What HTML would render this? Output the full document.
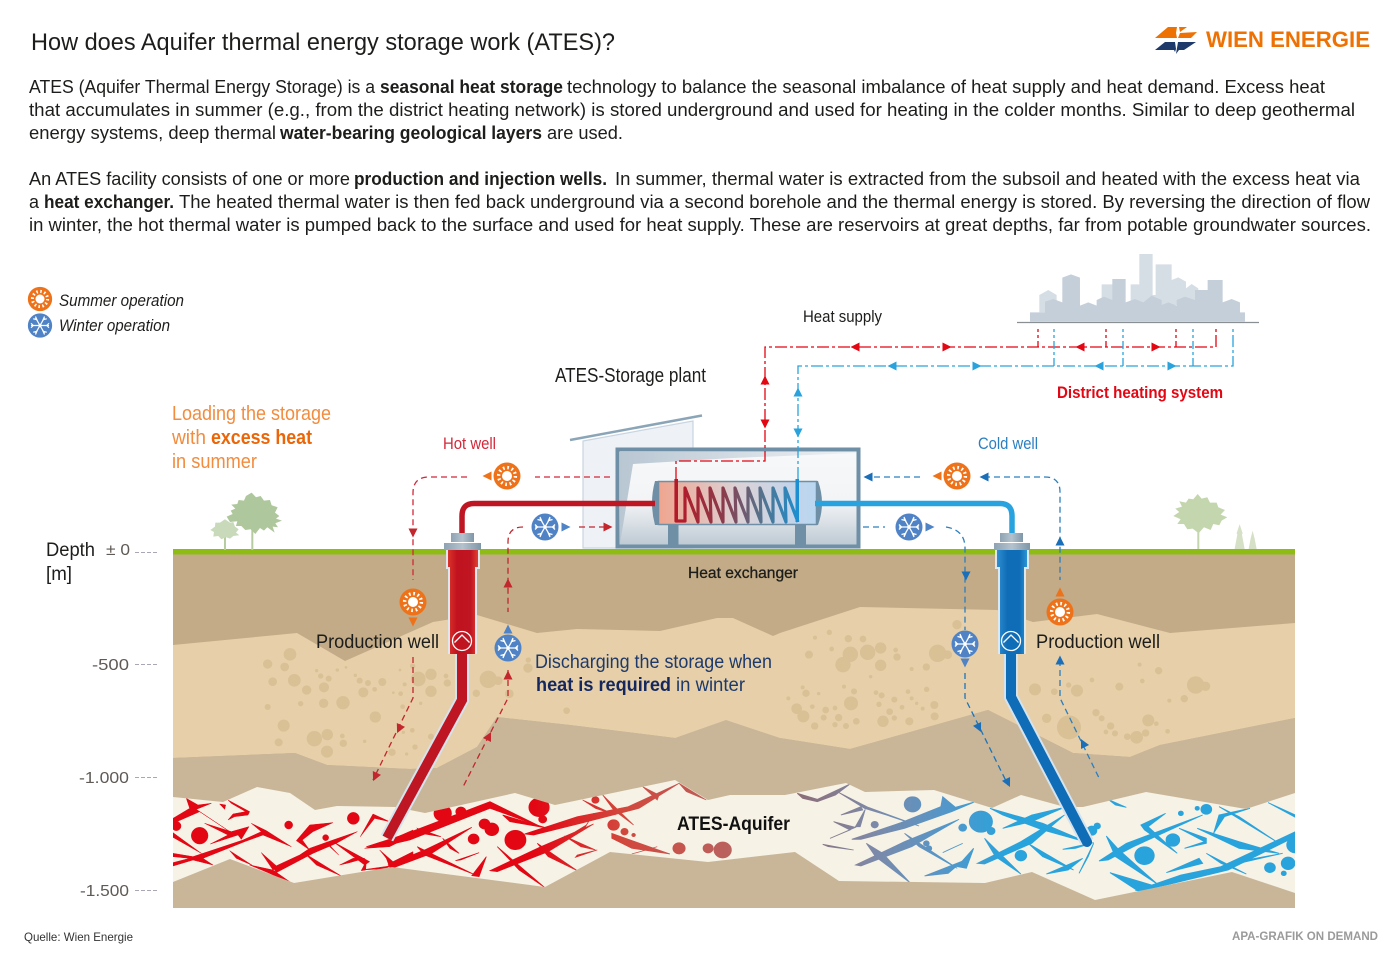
<!DOCTYPE html>
<html><head><meta charset="utf-8"><title>ATES</title>
<style>html,body{margin:0;padding:0;background:#fff}svg{display:block}
text{font-family:"Liberation Sans",sans-serif;fill:#1d1d1b}
.b{font-weight:bold}
</style></head><body>
<svg xmlns="http://www.w3.org/2000/svg" width="1400" height="953" viewBox="0 0 1400 953">
<defs>
<linearGradient id="coil" gradientUnits="userSpaceOnUse" x1="680" y1="0" x2="800" y2="0"><stop offset="0" stop-color="#b31b2a"/><stop offset=".35" stop-color="#8c3a4a"/><stop offset=".65" stop-color="#5b6f86"/><stop offset="1" stop-color="#1b8fcf"/></linearGradient>
<linearGradient id="tank" x1="0" y1="0" x2="1" y2="0"><stop offset="0" stop-color="#efa58f"/><stop offset=".5" stop-color="#dcd2d6"/><stop offset="1" stop-color="#b9d6f2"/></linearGradient>
<linearGradient id="box" x1="0" y1="0" x2="0" y2="1"><stop offset="0" stop-color="#f7f8fa"/><stop offset=".55" stop-color="#f2f4f6"/><stop offset="1" stop-color="#bcc8d2"/></linearGradient>
<linearGradient id="band" x1="0" y1="0" x2="1" y2="0"><stop offset="0" stop-color="#b9c7d3"/><stop offset="1" stop-color="#eef1f4"/></linearGradient>
<linearGradient id="redw" x1="0" y1="0" x2="1" y2="0"><stop offset="0" stop-color="#d9342b"/><stop offset=".3" stop-color="#c1121f"/><stop offset=".75" stop-color="#bf1522"/><stop offset="1" stop-color="#e0402f"/></linearGradient>
<linearGradient id="bluew" x1="0" y1="0" x2="1" y2="0"><stop offset="0" stop-color="#2f8fd0"/><stop offset=".35" stop-color="#0f6cb6"/><stop offset=".75" stop-color="#0f6cb6"/><stop offset="1" stop-color="#2c93d6"/></linearGradient>
<linearGradient id="cap" x1="0" y1="0" x2="1" y2="0"><stop offset="0" stop-color="#8ea3b3"/><stop offset=".5" stop-color="#b4c2cd"/><stop offset="1" stop-color="#7f96a8"/></linearGradient>
<linearGradient id="cr" gradientUnits="userSpaceOnUse" x1="1000" y1="0" x2="1540" y2="0"><stop offset="0" stop-color="#e30613"/><stop offset=".45" stop-color="#d2473c"/><stop offset="1" stop-color="#b9625e"/></linearGradient>
<linearGradient id="cb" gradientUnits="userSpaceOnUse" x1="180" y1="0" x2="760" y2="0"><stop offset="0" stop-color="#8c6c74"/><stop offset=".35" stop-color="#7f88a6"/><stop offset=".7" stop-color="#5596c8"/><stop offset="1" stop-color="#29a3dc"/></linearGradient>
<clipPath id="aq"><path d="M173 797 223 802 257 787 290 793 315 810 337 806 395 807 425 813 515 793 555 805 675 780 708 800 730 795 785 795 846 783 865 792 934 790 992 808 1021 795 1065 807 1083 807 1146 792 1246 809 1295 793V893L1232 872 1095 900 1032 872 985 883 839 881 795 852 708 862 610 852 545 887 392 867 294 883 230 859 173 882Z"/></clipPath>
<path id="ar" d="M-4.5-4.5 4.5 0-4.5 4.5Z"/>
<g id="sun"><circle r="13.5" fill="#ee7219"/><circle r="5" fill="#fff"/><circle r="8.4" fill="none" stroke="#fff" stroke-width="3.4" stroke-dasharray="1.7 2.7"/></g>
<g id="snow"><circle r="13.5" fill="#4f83c6"/><g stroke="#fff" stroke-width="1.3" fill="none"><path d="M-10 0H10M-5-8.7 5 8.7M-5 8.7 5-8.7"/><path d="M-10-2.5-7.5 0-10 2.500M10-2.500 7.500 0 10 2.500M-7.500-7.500-3.500-6.500-5-10M7.500-7.500 3.500-6.500 5-10M-7.500 7.500-3.500 6.500-5 10M7.500 7.500 3.500 6.500 5 10"/></g><circle r="1.800" fill="#fff"/></g>
<g id="sym"><circle r="9.500" fill="none" stroke="#fff" stroke-width="1.300"/><path d="M-7.500 1.500 0-6 7.500 1.500" fill="none" stroke="#fff" stroke-width="1.300"/></g>
</defs>

<!-- header -->
<text x="31" y="50" font-size="24" textLength="584" lengthAdjust="spacingAndGlyphs">How does Aquifer thermal energy storage work (ATES)?</text>
<path d="M1155 38 1168 27H1177L1176 33 1177 38ZM1179 27H1187L1180 32ZM1180 33 1197 32 1191 38H1178Z" fill="#ee7203"/>
<path d="M1155 50 1165 42H1175L1176 49 1175 52 1174 50ZM1178 42H1196L1184 50H1179L1176 54 1177 48Z" fill="#1d3a6b"/>
<text x="1206" y="47" font-size="22" class="b" style="fill:#ee7203" textLength="164" lengthAdjust="spacingAndGlyphs">WIEN ENERGIE</text>

<g font-size="18">
<text x="29" y="93" textLength="346" lengthAdjust="spacingAndGlyphs">ATES (Aquifer Thermal Energy Storage) is a</text>
<text x="380" y="93" class="b" textLength="183" lengthAdjust="spacingAndGlyphs">seasonal heat storage</text>
<text x="567" y="93" textLength="758" lengthAdjust="spacingAndGlyphs">technology to balance the seasonal imbalance of heat supply and heat demand. Excess heat</text>
<text x="29" y="116" textLength="1326" lengthAdjust="spacingAndGlyphs">that accumulates in summer (e.g., from the district heating network) is stored underground and used for heating in the colder months. Similar to deep geothermal</text>
<text x="29" y="139" textLength="247" lengthAdjust="spacingAndGlyphs">energy systems, deep thermal</text>
<text x="280" y="139" class="b" textLength="262" lengthAdjust="spacingAndGlyphs">water-bearing geological layers</text>
<text x="547" y="139" textLength="76" lengthAdjust="spacingAndGlyphs">are used.</text>
<text x="29" y="185" textLength="321" lengthAdjust="spacingAndGlyphs">An ATES facility consists of one or more</text>
<text x="354" y="185" class="b" textLength="253" lengthAdjust="spacingAndGlyphs">production and injection wells.</text>
<text x="615" y="185" textLength="745" lengthAdjust="spacingAndGlyphs">In summer, thermal water is extracted from the subsoil and heated with the excess heat via</text>
<text x="29" y="208" textLength="10" lengthAdjust="spacingAndGlyphs">a</text>
<text x="44" y="208" class="b" textLength="130" lengthAdjust="spacingAndGlyphs">heat exchanger.</text>
<text x="179" y="208" textLength="1191" lengthAdjust="spacingAndGlyphs">The heated thermal water is then fed back underground via a second borehole and the thermal energy is stored. By reversing the direction of flow</text>
<text x="29" y="231" textLength="1342" lengthAdjust="spacingAndGlyphs">in winter, the hot thermal water is pumped back to the surface and used for heat supply. These are reservoirs at great depths, far from potable groundwater sources.</text>
</g>

<!-- legend -->
<use href="#sun" transform="translate(40 299) scale(.9)"/>
<use href="#snow" transform="translate(40 325.500) scale(.9)"/>
<text x="59" y="306" font-size="16.500" font-style="italic" textLength="125" lengthAdjust="spacingAndGlyphs">Summer operation</text>
<text x="59" y="331" font-size="16.500" font-style="italic" textLength="111" lengthAdjust="spacingAndGlyphs">Winter operation</text>

<!-- city -->
<g transform="translate(900 240) scale(.3333)">
<path fill="#d6dee5" d="M418 217V165L445 150 470 165V217ZM605 185V133H640V185ZM692 190V133H718V42H758V165H767V73H815V120L835 112 858 125V145L875 132 895 145V195H692Z"/>
<path fill="#c5cfd9" d="M390 245V217H435V185L460 177 487 187V113L513 103 540 113V197L565 187 590 197V180L612 170 637 180V117H677V187L705 177 730 187 755 167 785 180V195L805 187 830 197V180L855 170 885 180V150H923V120H968V187L995 177 1020 187V217H1035V245Z"/>
</g>
<path d="M1017 322.500H1259" stroke="#8a8f94" stroke-width="1.200"/>

<!-- ground -->
<rect x="173" y="554" width="1122" height="354" fill="#c2ab86"/>
<path fill="#e6cfa9" d="M173 645 297 633 345 661 433 622 477 615 537 633 577 629 660 631 717 618 733 618 773 636 780 633 860 607 997 610 1033 622 1097 614 1170 633 1295 623V718L1160 745 1130 757 1073 753 988 710 850 749 780 738 675 738 570 725 497 717 477 747 437 768 410 769 327 765 295 753 173 758Z"/>
<path fill="#c9b698" d="M173 758 295 753 327 765 410 769 437 768 477 747 497 717 570 725 675 738 726 720 780 738 850 749 988 710 1073 753 1130 757 1160 745 1295 718V908H173Z"/>
<path fill="#f6f2e6" d="M173 797 223 802 257 787 290 793 315 810 337 806 395 807 425 813 515 793 555 805 675 780 708 800 730 795 785 795 846 783 865 792 934 790 992 808 1021 795 1065 807 1083 807 1146 792 1246 809 1295 793V893L1232 872 1095 900 1032 872 985 883 839 881 795 852 708 862 610 852 545 887 392 867 294 883 230 859 173 882Z"/>
<rect x="173" y="549" width="1122" height="5.500" fill="#8fbc14"/>

<!-- sand blobs -->
<g fill="#d9c095" transform="translate(170 590) scale(.3333)">
<circle cx="360" cy="193" r="19"/><circle cx="293" cy="222" r="14"/><circle cx="344" cy="231" r="13"/><circle cx="373" cy="271" r="19"/><circle cx="308" cy="275" r="13"/><circle cx="410" cy="300" r="14"/><circle cx="462" cy="292" r="15"/><circle cx="476" cy="266" r="9"/><circle cx="452" cy="258" r="8"/><circle cx="519" cy="338" r="20"/><circle cx="461" cy="340" r="14"/><circle cx="392" cy="341" r="8"/><circle cx="293" cy="351" r="9"/><circle cx="580" cy="307" r="15"/><circle cx="637" cy="276" r="12"/><circle cx="569" cy="272" r="9"/><circle cx="594" cy="279" r="9"/><circle cx="614" cy="298" r="7"/><circle cx="616" cy="381" r="17"/><circle cx="341" cy="407" r="18"/><circle cx="433" cy="446" r="23"/><circle cx="472" cy="434" r="17"/><circle cx="326" cy="457" r="12"/><circle cx="471" cy="485" r="18"/><circle cx="520" cy="460" r="11"/><circle cx="517" cy="438" r="7"/><circle cx="745" cy="267" r="22"/><circle cx="783" cy="253" r="17"/><circle cx="783" cy="304" r="17"/><circle cx="832" cy="279" r="11"/><circle cx="828" cy="258" r="7"/><circle cx="692" cy="311" r="7"/><circle cx="704" cy="283" r="6"/><circle cx="698" cy="350" r="7"/><circle cx="752" cy="340" r="5"/><circle cx="727" cy="421" r="7"/><circle cx="783" cy="440" r="9"/><circle cx="735" cy="471" r="8"/><circle cx="666" cy="487" r="11"/><circle cx="700" cy="427" r="5"/><circle cx="710" cy="492" r="5"/><circle cx="584" cy="454" r="5"/><circle cx="955" cy="268" r="26"/><circle cx="985" cy="272" r="13"/><circle cx="919" cy="310" r="11"/><circle cx="1018" cy="311" r="13"/><circle cx="1074" cy="234" r="14"/><circle cx="1075" cy="210" r="8"/><circle cx="1190" cy="362" r="10"/>
<circle cx="440" cy="242" r="5"/><circle cx="502" cy="240" r="5"/><circle cx="528" cy="232" r="4"/><circle cx="556" cy="256" r="5"/><circle cx="690" cy="240" r="4"/><circle cx="670" cy="308" r="4"/><circle cx="728" cy="228" r="8"/>
</g>
<g fill="#d9c095" transform="translate(780 590) scale(.3333)">
<circle cx="531" cy="104" r="14"/><circle cx="205" cy="146" r="11"/><circle cx="249" cy="147" r="10"/><circle cx="148" cy="127" r="8"/><circle cx="105" cy="143" r="6"/><circle cx="155" cy="177" r="7"/><circle cx="87" cy="194" r="12"/><circle cx="211" cy="193" r="23"/><circle cx="189" cy="224" r="23"/><circle cx="263" cy="187" r="23"/><circle cx="302" cy="174" r="17"/><circle cx="302" cy="226" r="17"/><circle cx="351" cy="201" r="11"/><circle cx="347" cy="180" r="7"/><circle cx="473" cy="190" r="26"/><circle cx="503" cy="194" r="13"/><circle cx="439" cy="231" r="11"/><circle cx="395" cy="237" r="6"/><circle cx="272" cy="260" r="5"/>
<circle cx="78" cy="310" r="11"/><circle cx="25" cy="325" r="6"/><circle cx="50" cy="356" r="16"/><circle cx="70" cy="379" r="18"/><circle cx="104" cy="408" r="11"/><circle cx="131" cy="383" r="9"/><circle cx="97" cy="350" r="7"/><circle cx="137" cy="360" r="10"/><circle cx="165" cy="354" r="7"/><circle cx="176" cy="383" r="11"/><circle cx="213" cy="340" r="21"/><circle cx="222" cy="304" r="9"/><circle cx="229" cy="394" r="10"/><circle cx="165" cy="404" r="8"/><circle cx="198" cy="408" r="9"/><circle cx="309" cy="394" r="17"/><circle cx="329" cy="365" r="10"/><circle cx="297" cy="343" r="8"/><circle cx="343" cy="329" r="9"/><circle cx="366" cy="352" r="7"/><circle cx="395" cy="325" r="6"/><circle cx="388" cy="394" r="12"/><circle cx="343" cy="384" r="8"/><circle cx="463" cy="345" r="12"/><circle cx="464" cy="379" r="12"/><circle cx="440" cy="298" r="8"/><circle cx="384" cy="305" r="7"/><circle cx="305" cy="316" r="9"/><circle cx="428" cy="356" r="6"/><circle cx="410" cy="340" r="5"/><circle cx="288" cy="308" r="7"/><circle cx="116" cy="311" r="5"/><circle cx="68" cy="292" r="6"/><circle cx="192" cy="290" r="6"/>
<circle cx="765" cy="298" r="18"/><circle cx="891" cy="302" r="18"/><circle cx="823" cy="305" r="10"/><circle cx="866" cy="285" r="8"/><circle cx="936" cy="270" r="7"/><circle cx="1018" cy="290" r="12"/><circle cx="1136" cy="242" r="11"/><circle cx="1247" cy="285" r="26"/><circle cx="1277" cy="289" r="14"/><circle cx="1213" cy="326" r="11"/><circle cx="1087" cy="273" r="7"/><circle cx="1079" cy="224" r="6"/><circle cx="1168" cy="332" r="6"/>
<circle cx="800" cy="385" r="14"/><circle cx="867" cy="412" r="36"/><circle cx="948" cy="368" r="11"/><circle cx="992" cy="408" r="11"/><circle cx="965" cy="385" r="9"/><circle cx="1005" cy="430" r="9"/><circle cx="1070" cy="442" r="19"/><circle cx="1042" cy="440" r="10"/><circle cx="1097" cy="429" r="11"/><circle cx="1105" cy="391" r="18"/><circle cx="1129" cy="401" r="7"/><circle cx="1163" cy="424" r="7"/><circle cx="978" cy="426" r="7"/>
</g>

<!-- fissures -->
<g clip-path="url(#aq)">
<!-- left red, traced -->
<g transform="translate(173 790) scale(.3333)" fill="#e30613" stroke="#e30613" stroke-width="1.500" stroke-linejoin="miter">
<path d="M0 190 60 200 210 150 265 125 235 100 280 122 355 170 270 135 215 155 90 205 120 225 60 210 0 228V218L50 205 0 200Z"/>
<path d="M0 85 50 55 40 25 75 45 115 40 70 58 175 128 80 65 0 100Z"/>
<path d="M0 128 85 190 0 142Z"/>
<path d="M112 162 165 135 95 100 175 125 228 110 205 148 195 135Z"/>
<path d="M165 30 230 65 225 75 185 80 165 90 180 72 218 65 175 40ZM140 42 158 45 155 58Z"/>
<path d="M170 182 238 226 190 205ZM230 225 300 240 360 282 285 248Z"/>
<path d="M300 232 380 195 410 175 480 150 553 125 490 160 420 190 310 248Z"/>
<path d="M265 188 315 232 300 240Z"/>
<path d="M395 190 505 258 430 225Z"/>
<path d="M370 152 410 105 480 98 420 125 388 150 410 180Z"/>
<path d="M465 160 497 195 470 170ZM480 155 590 215 575 225Z"/>
<path d="M500 225 540 205 575 205 530 218ZM565 242 580 212 578 240Z"/>
<path d="M562 140 600 72 650 95 605 85Z"/>
<path d="M575 175 640 155 720 120V135L650 170Z"/>
<path d="M620 180 660 215 720 185V200L650 232 640 205ZM565 240 650 228 640 236Z"/>
<circle cx="80" cy="137" r="25"/><circle cx="10" cy="108" r="14"/><circle cx="347" cy="105" r="12"/><circle cx="458" cy="143" r="9"/><circle cx="541" cy="85" r="18"/>
</g>
<g transform="translate(170 700) scale(.3636 .3333)" fill="url(#cr)" stroke="url(#cr)" stroke-width="2">
<path d="M540 440 640 405 880 305 1020 380 880 325 660 420 600 435Z"/>
<path d="M600 495 700 450 830 382 720 460 610 505Z"/>
<path d="M680 440 840 525 700 465Z"/><path d="M680 385 745 410 690 400Z"/>
<path d="M750 415 795 460 770 445ZM785 482 850 458 800 480ZM830 527 870 470 850 530Z"/>
<path d="M880 512 1020 440 1165 372 1040 455 900 515Z"/>
<path d="M900 440 1030 562 960 510Z"/>
<path d="M1010 430 1120 512 1040 470Z"/>
<path d="M915 345 1040 385 935 365Z"/>
<path d="M975 402 1120 350 1260 320 1400 250 1290 325 1130 370 1000 405Z"/>
<path d="M1190 285 1275 375 1220 330Z"/><path d="M1135 300 1225 345 1170 325Z"/>
<path d="M1300 260 1345 285 1340 300Z"/><path d="M1400 250 1475 300 1420 275Z"/>
<path d="M1215 400 1375 462 1270 445 1215 415Z"/><path d="M1270 462 1340 440 1310 450Z"/>
<path d="M1115 472 1175 450 1120 465ZM1170 450 1085 408 1130 440Z"/>
<path d="M1165 340 1140 385 1115 395 1145 375Z"/>
<circle cx="750" cy="340" r="24"/><circle cx="800" cy="335" r="14"/><circle cx="835" cy="417" r="15"/><circle cx="865" cy="372" r="15"/><circle cx="885" cy="388" r="19"/><circle cx="950" cy="420" r="29"/><circle cx="1015" cy="322" r="28"/><circle cx="1025" cy="358" r="11"/><circle cx="1170" cy="300" r="10"/><circle cx="1220" cy="375" r="16"/><circle cx="1250" cy="395" r="10"/><circle cx="1275" cy="405" r="5"/><circle cx="1400" cy="445" r="17"/><circle cx="1480" cy="445" r="14"/><circle cx="1520" cy="450" r="24"/>
</g>
<!-- blue -->
<g transform="translate(730 700) scale(.3636 .3333)" fill="url(#cb)" stroke="url(#cb)" stroke-width="2.500">
<path d="M185 280 240 298 330 252 290 285 240 305 200 295Z"/>
<path d="M300 278 380 322 520 378 430 345 370 325Z"/>
<path d="M305 345 360 320 365 330Z"/>
<path d="M285 365 345 382 275 415 330 390Z"/>
<path d="M372 328 358 380 345 380Z"/>
<path d="M255 433 340 450 270 440Z"/>
<path d="M335 418 470 368 580 320 585 290 620 322 675 305 610 335 480 385 360 418Z"/>
<path d="M345 495 480 425 630 358 500 440 360 498Z"/>
<path d="M375 430 420 460 495 548 400 470Z"/>
<path d="M480 400 625 505 520 440Z"/>
<path d="M535 528 640 483 600 520Z"/><path d="M585 458 640 430 600 450Z"/><path d="M625 500 670 445 650 505Z"/>
<path d="M680 490 800 425 920 345 830 430 700 492Z"/>
<path d="M700 415 800 522 730 470Z"/>
<path d="M715 325 860 370 985 428 860 390 750 345Z"/>
<path d="M750 385 830 345 920 322 830 365Z"/>
<path d="M870 522 970 475 930 510Z"/><path d="M820 430 945 510 860 470Z"/><path d="M1000 430 960 520 985 470Z"/><path d="M915 448 1000 428 950 445Z"/>
<path d="M1015 483 1090 430 1300 345 1110 440 1040 480Z"/>
<path d="M1035 408 1070 450 1175 552 1060 470Z"/>
<path d="M1045 518 1175 560 1115 572 1240 525 1350 500 1555 395V410L1370 510 1125 575Z"/>
<path d="M1130 375 1198 340 1150 380 1230 460 1140 390Z"/>
<path d="M1200 518 1290 475 1300 490Z"/>
<path d="M1250 445 1305 425 1235 385 1310 415V430Z"/>
<path d="M1285 385 1400 425 1510 460 1400 445Z"/>
<path d="M1330 400 1345 345 1430 325 1360 350Z"/>
<path d="M1345 320 1510 430 1400 350Z"/>
<path d="M1310 460 1420 522 1350 490Z"/>
<path d="M1370 490 1520 460 1400 490Z"/>
<path d="M1480 308 1555 345V352Z"/><path d="M1040 298 1090 322 1060 315Z"/>
<g stroke="none">
<circle cx="502" cy="313" r="24"/><circle cx="690" cy="365" r="33"/><circle cx="718" cy="393" r="12"/><circle cx="640" cy="383" r="12"/><circle cx="800" cy="467" r="17"/><circle cx="398" cy="374" r="11"/><circle cx="540" cy="430" r="9"/><circle cx="547" cy="445" r="9"/><circle cx="995" cy="392" r="15"/><circle cx="1010" cy="378" r="10"/><circle cx="1140" cy="467" r="28"/><circle cx="1218" cy="420" r="20"/><circle cx="1240" cy="340" r="8"/><circle cx="1310" cy="328" r="16"/><circle cx="1285" cy="325" r="7"/><circle cx="1485" cy="503" r="16"/><circle cx="1535" cy="490" r="20"/><circle cx="1523" cy="520" r="8"/><circle cx="1555" cy="435" r="25"/>
</g>
</g>
</g>

<!-- trees -->
<g transform="translate(0 270) scale(.3333)">
<path d="M675 840V800M757 840V770" stroke="#b6cca0" stroke-width="6"/>
<path fill="#c9dabb" d="M675 748 690 758 700 756 705 770 716 778 708 788 718 796 700 798 690 806 678 802 664 808 655 798 640 800 642 786 631 780 645 770 646 758 660 758Z"/>
<path fill="#aec79c" d="M755 668 768 682 782 678 792 692 810 690 815 706 833 712 825 728 838 738 828 746 846 752 826 760 834 772 818 770 824 788 802 772 792 782 780 774 766 792 752 778 736 780 724 768 708 768 712 754 690 756 680 740 698 732 692 722 706 716 694 704 712 702 716 690 732 692 738 678Z"/>
</g>
<g transform="translate(900 240) scale(.3333)">
<path d="M895 927V860" stroke="#c4d6ae" stroke-width="6"/>
<path fill="#c4d6ae" d="M893 762 905 776 922 772 930 788 950 788 955 802 975 810 962 824 982 832 965 842 958 856 940 852 932 870 912 862 896 880 878 866 862 868 852 852 832 852 842 838 820 828 838 816 826 806 846 800 838 784 858 788 866 776 880 778Z"/>
<path fill="#d5e0c6" d="M1019 853 1028 880 1026 884 1034 927H1004L1012 884 1010 880ZM1058 872 1064 896 1070 927H1046L1052 896Z"/>
</g>

<!-- plant -->
<path d="M583 441 693 421V548H583Z" fill="#eef2f7" stroke="#c8d5e0" stroke-width="1.200"/>
<path d="M570 440 702 415.500" stroke="#8ba5b8" stroke-width="2.500"/>
<rect x="617.500" y="449.500" width="241" height="97" fill="url(#box)" stroke="#6e8fa6" stroke-width="4"/>
<path d="M620 544 620 452H856V453L733 458 633 464Z" fill="url(#band)"/>
<rect x="668" y="524" width="10.500" height="23" fill="#6e8fa6"/><rect x="795" y="524" width="11" height="23" fill="#6e8fa6"/>
<path d="M660 481H655Q649 503 655 525H660ZM815 481H818Q826 503 818 525H815Z" fill="#6e8fa6"/>
<rect x="658.500" y="481.500" width="158" height="43" fill="url(#tank)" stroke="#6e8fa6" stroke-width="1.500"/>
<path d="M676 479V521H685L685 488 698 522 698 488 711 522 710 488 723 522 723 488 736 522 735 488 748 522 748 488 761 522 760 488 773 522 773 488 786 522 785 488 798 522" fill="none" stroke="url(#coil)" stroke-width="3.200" stroke-linejoin="round"/>
<rect x="795.500" y="479" width="3.500" height="43" fill="#1b8fcf"/><rect x="674.500" y="479" width="3.500" height="43" fill="#b31b2a"/>

<!-- pipes -->
<path d="M655 503.500H474Q462 503.500 462 516V534" fill="none" stroke="#be1622" stroke-width="5.500"/>
<path d="M815 503.500H1000Q1012 503.500 1012 516V534" fill="none" stroke="#29a3e0" stroke-width="5.500"/>
<!-- left well -->
<path d="M462 654V700L387 838" fill="none" stroke="#d5e3ee" stroke-width="14"/>
<path d="M462 654V700L387 838" fill="none" stroke="#be1622" stroke-width="10"/>
<rect x="451" y="533" width="23" height="9" fill="url(#cap)"/>
<rect x="444" y="543" width="37" height="7" fill="url(#cap)"/>
<path d="M446 550H480V569H477V654H448V569H446Z" fill="#dde7ef"/>
<path d="M448 550H478V567H475V654H450V567H448Z" fill="url(#redw)"/>
<use href="#sym" x="462" y="641"/>
<!-- right well -->
<path d="M1011 654V697L1087 842" fill="none" stroke="#d5e3ee" stroke-width="14"/>
<path d="M1011 654V697L1087 842" fill="none" stroke="#0f6cb6" stroke-width="10" stroke-linecap="round"/>
<rect x="1000" y="533" width="23" height="9" fill="url(#cap)"/>
<rect x="994" y="543" width="36" height="7" fill="url(#cap)"/>
<path d="M995 550H1029V569H1026V654H998V569H995Z" fill="#dde7ef"/>
<path d="M997 550H1027V567H1024V654H1000V567H997Z" fill="url(#bluew)"/>
<use href="#sym" x="1011" y="641"/>

<!-- heat network -->
<g fill="none" stroke-width="1.300">
<path stroke="#e30613" stroke-dasharray="12 3 3 3" d="M676 479V461H765V347H1216V327"/>
<path stroke="#e30613" stroke-dasharray="6 3 3 3" d="M1038 347V329M1106 347V329M1176 347V329"/>
<path stroke="#2aa3dc" stroke-dasharray="12 3 3 3" d="M798 479V366H1233V327"/>
<path stroke="#2aa3dc" stroke-dasharray="8 3 3 3" d="M1054 366V329M1123 366V329M1193 366V329"/>
</g>
<g fill="#e30613"><use href="#ar" transform="translate(855 347) rotate(180)"/><use href="#ar" transform="translate(947 347)"/><use href="#ar" transform="translate(1080 347) rotate(180)"/><use href="#ar" transform="translate(1156 347)"/><use href="#ar" transform="translate(765 380) rotate(-90)"/><use href="#ar" transform="translate(765 424) rotate(90)"/></g>
<g fill="#2aa3dc"><use href="#ar" transform="translate(892 366) rotate(180)"/><use href="#ar" transform="translate(977 366)"/><use href="#ar" transform="translate(1099 366) rotate(180)"/><use href="#ar" transform="translate(1172 366)"/><use href="#ar" transform="translate(798 392) rotate(-90)"/><use href="#ar" transform="translate(798 433) rotate(90)"/></g>

<!-- well flows -->
<g fill="none" stroke-width="1.300" stroke-dasharray="6 4">
<path stroke="#d2283a" d="M610 477H535M467 477H429Q413 477 413 493V580"/>
<path stroke="#c1272d" d="M413 657V698L373 780"/>
<path stroke="#c1272d" d="M579 527H605M523 527Q508 527 508 542V612"/>
<path stroke="#c1272d" d="M508 670V698L463 787"/>
<path stroke="#2a7fc1" d="M920 477H865M984 477H1045Q1060 477 1060 492V580"/>
<path stroke="#2a7fc1" d="M1060 660V698L1100 780"/>
<path stroke="#2a7fc1" d="M863 527H885M946 527Q965 530 965 548V630"/>
<path stroke="#1b75bc" d="M965 673V698L1008 785"/>
</g>
<g fill="#c1272d"><use href="#ar" transform="translate(413 533) rotate(90)"/><use href="#ar" transform="translate(399 729) rotate(115)"/><use href="#ar" transform="translate(375 777) rotate(115)"/><use href="#ar" transform="translate(608 527)"/><use href="#ar" transform="translate(508 583) rotate(-90)"/><use href="#ar" transform="translate(508 675) rotate(-90)"/><use href="#ar" transform="translate(489 736) rotate(-63)"/></g>
<g fill="#1b6fb8"><use href="#ar" transform="translate(868 477) rotate(180)"/><use href="#ar" transform="translate(984 477) rotate(180)"/><use href="#ar" transform="translate(1060 541) rotate(-90)"/><use href="#ar" transform="translate(1060 660) rotate(-90)"/><use href="#ar" transform="translate(1083 743) rotate(-117)"/><use href="#ar" transform="translate(966 576) rotate(90)"/><use href="#ar" transform="translate(979 728) rotate(64)"/><use href="#ar" transform="translate(1008 783) rotate(64)"/></g>
<!-- icons -->
<use href="#sun" transform="translate(507 476)"/><use href="#ar" transform="translate(487 476) rotate(180)" fill="#ee7219"/>
<use href="#sun" transform="translate(413 602)"/><use href="#ar" transform="translate(413 622) rotate(90)" fill="#ee7219"/>
<use href="#sun" transform="translate(957 476)"/><use href="#ar" transform="translate(937 476) rotate(180)" fill="#ee7219"/>
<use href="#sun" transform="translate(1060 612)"/><use href="#ar" transform="translate(1060 592) rotate(-90)" fill="#ee7219"/>
<use href="#snow" transform="translate(545 527)"/><use href="#ar" transform="translate(566 527)" fill="#4f83c6"/>
<use href="#snow" transform="translate(508 648)"/><use href="#ar" transform="translate(508 629) rotate(-90)" fill="#4f83c6"/>
<use href="#snow" transform="translate(909 527)"/><use href="#ar" transform="translate(930 527)" fill="#4f83c6"/>
<use href="#snow" transform="translate(965 644)"/><use href="#ar" transform="translate(965 663) rotate(90)" fill="#4f83c6"/>

<!-- depth scale -->
<path d="M135 552.500H157M135 664.500H157M135 777.500H157M135 890.500H157" stroke="#a7a7b5" stroke-width="1" stroke-dasharray="4 2"/>
<text x="46" y="556" font-size="19" textLength="49" lengthAdjust="spacingAndGlyphs">Depth</text>
<text x="46" y="580" font-size="19" textLength="26" lengthAdjust="spacingAndGlyphs">[m]</text>
<g font-size="16"><text x="106" y="555" style="fill:#5f5a55" textLength="24" lengthAdjust="spacingAndGlyphs">± 0</text>
<text x="92" y="670" style="fill:#5f5a55" textLength="37" lengthAdjust="spacingAndGlyphs">-500</text>
<text x="79" y="783" style="fill:#5f5a55" textLength="50" lengthAdjust="spacingAndGlyphs">-1.000</text>
<text x="80" y="896" style="fill:#5f5a55" textLength="49" lengthAdjust="spacingAndGlyphs">-1.500</text></g>

<!-- labels -->
<text x="803" y="322" font-size="16.500" textLength="79" lengthAdjust="spacingAndGlyphs">Heat supply</text>
<text x="555" y="382" font-size="20" textLength="151" lengthAdjust="spacingAndGlyphs">ATES-Storage plant</text>
<text x="1057" y="398" font-size="16.500" class="b" style="fill:#e30613" textLength="166" lengthAdjust="spacingAndGlyphs">District heating system</text>
<text x="443" y="449" font-size="16.500" style="fill:#d2283a" textLength="53" lengthAdjust="spacingAndGlyphs">Hot well</text>
<text x="978" y="449" font-size="16.500" style="fill:#2a7fc1" textLength="60" lengthAdjust="spacingAndGlyphs">Cold well</text>
<text x="172" y="420" font-size="20" style="fill:#f28c3e" textLength="159" lengthAdjust="spacingAndGlyphs">Loading the storage</text>
<text x="172" y="444" font-size="20" style="fill:#f28c3e" textLength="34" lengthAdjust="spacingAndGlyphs">with</text>
<text x="211" y="444" font-size="20" class="b" style="fill:#ec6608" textLength="101" lengthAdjust="spacingAndGlyphs">excess heat</text>
<text x="172" y="468" font-size="20" style="fill:#f28c3e" textLength="85" lengthAdjust="spacingAndGlyphs">in summer</text>
<text x="316" y="648" font-size="19.500" textLength="123" lengthAdjust="spacingAndGlyphs">Production well</text>
<text x="1036" y="648" font-size="19.500" textLength="124" lengthAdjust="spacingAndGlyphs">Production well</text>
<text x="688" y="578" font-size="16" textLength="110" lengthAdjust="spacingAndGlyphs" stroke="#1d1d1b" stroke-width=".3">Heat exchanger</text>
<text x="535" y="668" font-size="19.500" style="fill:#1d3a6b" textLength="237" lengthAdjust="spacingAndGlyphs">Discharging the storage when</text>
<text x="536" y="691" font-size="19.500" class="b" style="fill:#14285f" textLength="135" lengthAdjust="spacingAndGlyphs">heat is required</text>
<text x="676" y="691" font-size="19.500" style="fill:#1d3a6b" textLength="69" lengthAdjust="spacingAndGlyphs">in winter</text>
<text x="677" y="830" font-size="19" class="b" style="fill:#111" textLength="113" lengthAdjust="spacingAndGlyphs">ATES-Aquifer</text>
<text x="24" y="941" font-size="12" style="fill:#333" textLength="109" lengthAdjust="spacingAndGlyphs">Quelle: Wien Energie</text>
<text x="1232" y="940" font-size="11.500" class="b" style="fill:#9a9a9a" textLength="146" lengthAdjust="spacingAndGlyphs">APA-GRAFIK ON DEMAND</text>
</svg>
</body></html>
